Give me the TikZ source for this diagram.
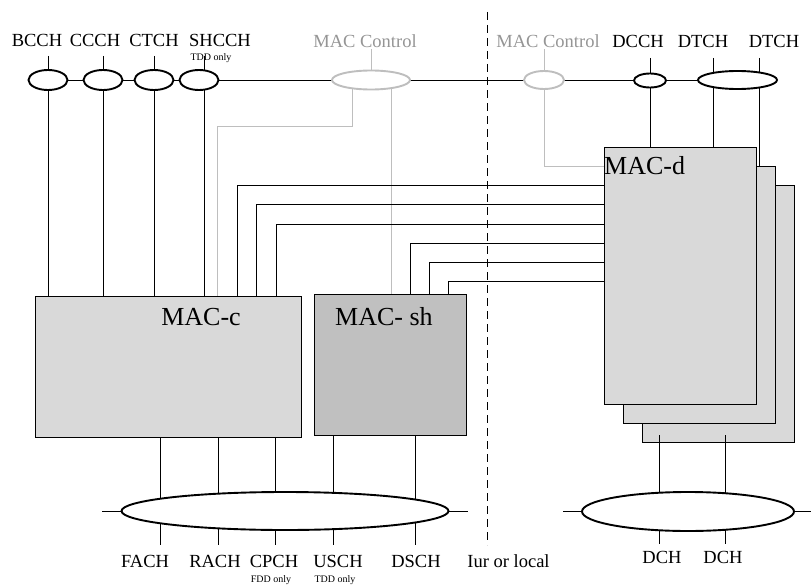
\documentclass[tikz,border=0pt]{standalone}
\usepackage{fontspec}
\setmainfont{Liberation Serif}
\usetikzlibrary{shapes.geometric}
\definecolor{ctlline}{HTML}{BEBEBE}
\definecolor{ctltext}{HTML}{959595}
\definecolor{boxfill}{HTML}{D9D9D9}
\definecolor{shfill}{HTML}{C0C0C0}
\pgfdeclarelayer{fg}
\pgfsetlayers{main,fg}
\begin{document}
\begin{tikzpicture}[x=1pt,y=-1pt,line width=2pt,
  lbl/.style={font=\fontsize{18.5}{20}\selectfont,inner sep=0pt,anchor=base},
  ctllbl/.style={lbl,text=ctltext},
  small/.style={font=\fontsize{10}{11}\selectfont,inner sep=0pt,anchor=base},
  big/.style={font=\fontsize{26}{28}\selectfont,inner sep=0pt,anchor=base},
  ell/.style={ellipse,draw,fill=white,inner sep=0pt,line width=1.9pt},
  gell/.style={ellipse,draw=ctlline,fill=white,inner sep=0pt,line width=1.9pt},
  mbox/.style={draw,fill=boxfill,inner sep=0pt,anchor=north west},
  ctl/.style={draw=ctlline},
  iface/.style={dash pattern=on 8pt off 5pt}]
\useasboundingbox (0,0) rectangle (811,586);

% ---- labels top
\node[lbl] (bcch) at (37,47) {BCCH};
\node[lbl] (ccch) at (95,47) {CCCH};
\node[lbl] (ctch) at (154,47) {CTCH};
\node[lbl] (shcch) at (220,47) {SHCCH};
\node[small] (tdd1) at (211,61) {TDD only};
\node[ctllbl] (ctl1) at (365,48) {MAC Control};
\node[ctllbl] (ctl2) at (548,48) {MAC Control};
\node[lbl] (dcch) at (638,48) {DCCH};
\node[lbl] (dtch1) at (703,48) {DTCH};
\node[lbl] (dtch2) at (774,48) {DTCH};

% ---- ellipses (foreground)
\begin{pgfonlayer}{fg}
\node[ell,minimum width=39,minimum height=20] (bcchE) at (48,80) {};
\node[ell,minimum width=39,minimum height=20] (ccchE) at (103,80) {};
\node[ell,minimum width=39,minimum height=20] (ctchE) at (154,80) {};
\node[ell,minimum width=39,minimum height=20] (shcchE) at (199,80) {};
\node[gell,minimum width=78,minimum height=19] (ctl1E) at (371,80) {};
\node[gell,minimum width=40,minimum height=18] (ctl2E) at (544,80) {};
\node[ell,minimum width=32,minimum height=14] (dcchE) at (650,80.5) {};
\node[ell,minimum width=79,minimum height=18] (dtchE) at (737.5,80) {};
\node[ell,minimum width=327,minimum height=38] (cbus) at (285,511) {};
\node[ell,minimum width=212,minimum height=39] (dbus) at (688,511.5) {};
\end{pgfonlayer}

% ---- boxes
\node[mbox,minimum width=266,minimum height=141] (macc) at (35,296) {};
\node[mbox,fill=shfill,minimum width=152,minimum height=141] (macsh) at (314,294) {};
\node[mbox,minimum width=152,minimum height=257] (macd3) at (642,185) {};
\node[mbox,minimum width=152,minimum height=257] (macd2) at (623,166) {};
\node[mbox,minimum width=152,minimum height=257] (macd1) at (604,147) {};
\node[big] (maccl) at (201,325) {MAC-c};
\node[big] (macshl) at (384,325) {MAC- sh};
\node[big,anchor=base west] (macdl) at (604,174) {MAC-d};

% ---- helper coordinates
\coordinate (st) at (0,56);
\coordinate (st2) at (0,58);
\coordinate (vsh) at (204,0);
\coordinate (vdt1) at (713,0);
\coordinate (vdt2) at (759,0);
\coordinate (g1) at (352,126);
\coordinate (g2) at (217,126);
\coordinate (g3) at (391,0);
\coordinate (g4) at (544,166);

% ---- top channel line
\draw (bcchE.center) -- (dtchE.center);

% ---- top verticals
\draw (bcchE.center |- st) -- (bcchE.center |- macc.north);
\draw (ccchE.center |- st) -- (ccchE.center |- macc.north);
\draw (ctchE.center |- st) -- (ctchE.center |- macc.north);
\draw (vsh |- st) -- (vsh |- macc.north);
\draw (dcchE.center |- st2) -- (dcchE.center |- macd1.north);
\draw (vdt1 |- st2) -- (vdt1 |- macd1.north);
\draw (vdt2 |- st2) -- (vdt2 |- macd2.north);

% ---- MAC control (grey)
\draw[ctl] (ctl1.south -| ctl1E.north) -- (ctl1E.north);
\draw[ctl] (ctl2.south -| ctl2E.north) -- (ctl2E.north);
\draw[ctl] (ctl1E.center -| g1) -- (g1) -- (g2) -- (g2 |- macc.north);
\draw[ctl] (ctl1E.center -| g3) -- (g3 |- macsh.north);
\draw[ctl] (ctl2E.center) -- (g4) -- (g4 -| macd1.west);

% ---- buses to MAC-d
\foreach \i/\x/\y in {1/237/185,2/256/204,3/276/224}{
  \coordinate (b\i) at (\x,\y);
  \draw (b\i |- macc.north) -- (b\i) -- (b\i -| macd1.west);
}
\foreach \i/\x/\y in {4/410/243,5/429/262,6/448/281}{
  \coordinate (b\i) at (\x,\y);
  \draw (b\i |- macsh.north) -- (b\i) -- (b\i -| macd1.west);
}

% ---- interface line
\coordinate (dt) at (487,12);
\coordinate (db) at (487,545);
\draw[iface] (dt) -- (db);

% ---- bottom
\coordinate (cl) at (102,511);
\coordinate (cr) at (468,511);
\coordinate (dl) at (563,511.5);
\coordinate (dr) at (811,511.5);
\coordinate (bb) at (0,545);
\coordinate (bb2) at (0,544);
\draw (cl) -- (cr);
\draw (dl) -- (dr);
\foreach \x in {160,218,275}{
  \coordinate (cx) at (\x,0);
  \draw (cx |- macc.south) -- (cx |- bb);
}
\foreach \x in {333,415}{
  \coordinate (cx) at (\x,0);
  \draw (cx |- macsh.south) -- (cx |- bb);
}
\coordinate (dtop) at (0,435);
\foreach \x in {659,725}{
  \coordinate (cx) at (\x,0);
  \draw (cx |- dtop) -- (cx |- bb2);
}

\node[lbl] (fach) at (145,567) {FACH};
\node[lbl] (rach) at (215,567) {RACH};
\node[lbl] (cpch) at (274,567) {CPCH};
\node[lbl] (usch) at (338,567) {USCH};
\node[lbl] (dsch) at (416,567) {DSCH};
\node[small] (fdd) at (271,582) {FDD only};
\node[small] (tdd2) at (335,582) {TDD only};
\node[lbl] (iur) at (508.5,567) {Iur or local};
\node[lbl] (dch1) at (662,563) {DCH};
\node[lbl] (dch2) at (723,563) {DCH};
\end{tikzpicture}
\end{document}
